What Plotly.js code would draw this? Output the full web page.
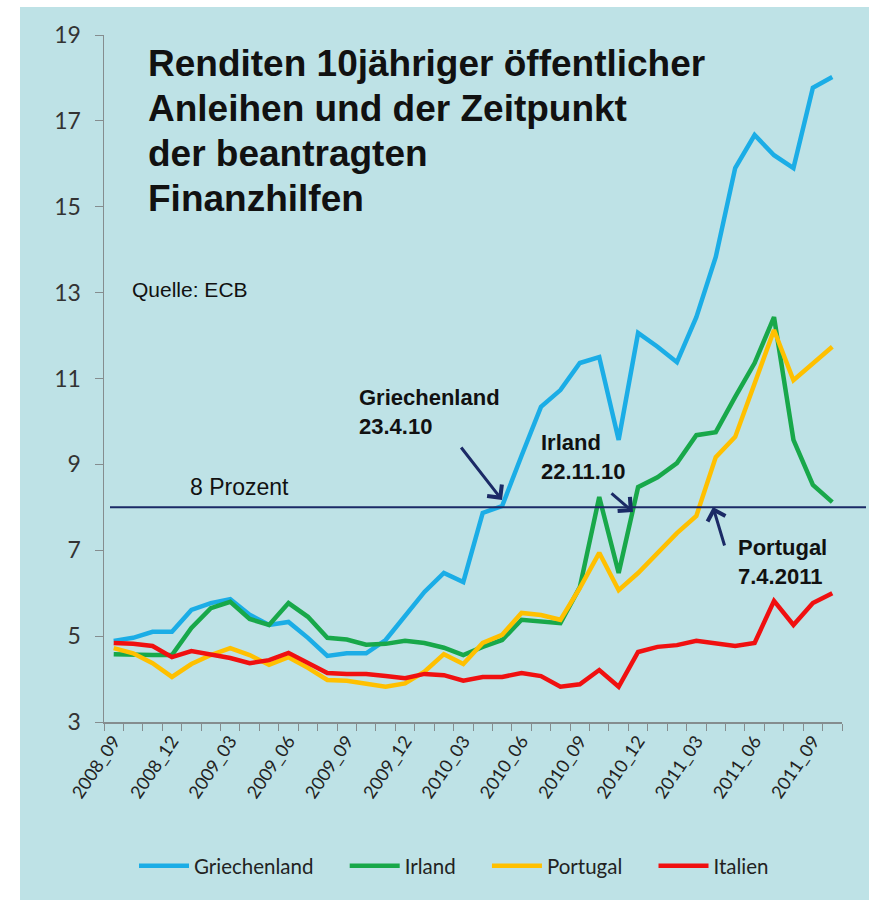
<!DOCTYPE html>
<html>
<head>
<meta charset="utf-8">
<script src="https://cdn.plot.ly/plotly-3.0.1.min.js"></script>
<style>html,body{margin:0;padding:0;background:#fff;}#chart{width:869px;height:900px;}</style>
</head>
<body>
<div id="chart"></div>
<script>
const months = ["2008_09","2008_10","2008_11","2008_12","2009_01","2009_02","2009_03","2009_04","2009_05","2009_06","2009_07","2009_08","2009_09","2009_10","2009_11","2009_12","2010_01","2010_02","2010_03","2010_04","2010_05","2010_06","2010_07","2010_08","2010_09","2010_10","2010_11","2010_12","2011_01","2011_02","2011_03","2011_04","2011_05","2011_06","2011_07","2011_08","2011_09","2011_10"];
const griechenland = [4.89,4.96,5.10,5.10,5.61,5.77,5.86,5.50,5.26,5.33,4.96,4.54,4.60,4.60,4.91,5.49,6.03,6.47,6.26,7.87,8.03,9.20,10.34,10.73,11.36,11.50,9.57,12.06,11.74,11.38,12.43,13.83,15.90,16.67,16.20,15.90,17.77,18.02];
const irland = [4.58,4.56,4.56,4.56,5.19,5.65,5.80,5.40,5.26,5.77,5.45,4.96,4.92,4.80,4.82,4.89,4.84,4.73,4.56,4.75,4.91,5.38,5.33,5.30,6.14,8.24,6.47,8.47,8.70,9.03,9.68,9.75,10.57,11.36,12.43,9.57,8.52,8.12];
const portugal = [4.72,4.60,4.37,4.05,4.35,4.56,4.72,4.56,4.33,4.51,4.26,3.98,3.96,3.88,3.82,3.90,4.17,4.58,4.35,4.84,5.03,5.54,5.49,5.38,6.12,6.94,6.07,6.47,6.95,7.40,7.80,9.17,9.64,10.92,12.13,10.96,11.36,11.74];
const italien = [4.84,4.82,4.77,4.51,4.65,4.58,4.49,4.37,4.44,4.61,4.37,4.14,4.12,4.12,4.07,4.02,4.12,4.09,3.96,4.05,4.05,4.14,4.07,3.82,3.88,4.21,3.82,4.63,4.75,4.79,4.89,4.84,4.77,4.84,5.82,5.26,5.77,6.00];
const seriesNames = ["Griechenland","Irland","Portugal","Italien"];
const threshold = 8;
const titleLines = ["Renditen 10jähriger öffentlicher","Anleihen und der Zeitpunkt","der beantragten","Finanzhilfen"];
const tickLabels = months.map((m,i) => i % 3 === 0 ? m : "");

const colors = ["#1badE6","#18a84a","#ffc000","#f01010"];
const pad = "\u00a0\u00a0\u00a0\u00a0\u00a0";
const data = [griechenland, irland, portugal, italien].map((vals,k) => ({
  x: months, y: vals, type: "scatter", mode: "lines", name: seriesNames[k] + (k < 3 ? pad : ""),
  line: {color: colors[k], width: 4.5}, hoverinfo: "skip"
}));

const L = 104, T = 35, W = 738, H = 687;
const px = v => (v - L) / W;
const py = v => (T + H - v) / H;
const bg = "#bee2e6";
const navy = "#1b2a66";
const boldFont = {family: "Liberation Sans, Arial, sans-serif", size: 22, color: "#111"};

const titleAnn = titleLines.map((t,i) => ({
  xref: "paper", yref: "paper", x: px(146), y: py(63.5 + 45 * i), xanchor: "left", yanchor: "middle",
  showarrow: false, text: "<b>" + t + "</b>",
  font: {family: "Liberation Sans, Arial, sans-serif", size: 37, color: "#111"}
}));

const layout = {
  width: 869, height: 900,
  margin: {l: L, r: 869 - L - W, t: T, b: 900 - T - H},
  paper_bgcolor: bg, plot_bgcolor: bg,
  showlegend: true,
  legend: {orientation: "h", x: px(454), xanchor: "center", y: py(866), yanchor: "middle", itemwidth: 50,
    font: {family: "Lato, sans-serif", size: 20.5, color: "#222"}, bgcolor: "rgba(0,0,0,0)"},
  xaxis: {type: "category", range: [-0.5, months.length - 0.5], tickvals: months, ticktext: tickLabels,
    tickangle: -56, ticks: "outside", tickson: "boundaries", ticklen: 7, tickcolor: "#858d8f",
    showline: true, linecolor: "#858d8f", linewidth: 1.5, showgrid: false, zeroline: false,
    tickfont: {family: "Lato, sans-serif", size: 18, color: "#222"}},
  yaxis: {range: [3, 19], tick0: 3, dtick: 2, ticks: "outside", ticklen: 8, tickcolor: "#858d8f",
    showline: true, linecolor: "#858d8f", linewidth: 1.5, showgrid: false, zeroline: false,
    tickfont: {family: "Lato, sans-serif", size: 23, color: "#333"}, ticklabelstandoff: 9},
  shapes: [
    {type: "rect", xref: "paper", yref: "paper", x0: -0.3, x1: px(20), y0: -0.5, y1: 1.2, fillcolor: "#fff", line: {width: 0}, layer: "below"},
    {type: "rect", xref: "paper", yref: "paper", x0: -0.3, x1: 1.3, y0: py(7), y1: 1.2, fillcolor: "#fff", line: {width: 0}, layer: "below"},
    {type: "line", xref: "paper", yref: "y", x0: px(110), x1: px(866), y0: threshold, y1: threshold, line: {color: navy, width: 2}}
  ],
  annotations: titleAnn.concat([
    {xref: "paper", yref: "paper", x: px(130), y: py(289), xanchor: "left", yanchor: "middle", showarrow: false,
     text: "Quelle: ECB", font: {family: "Liberation Sans, Arial, sans-serif", size: 21, color: "#111"}},
    {xref: "paper", yref: "paper", x: px(188), y: py(487), xanchor: "left", yanchor: "middle", showarrow: false,
     text: "8 Prozent", font: {family: "Liberation Sans, Arial, sans-serif", size: 23, color: "#111"}},
    {xref: "paper", yref: "paper", x: px(357), y: py(412), xanchor: "left", yanchor: "middle", align: "left", showarrow: false,
     text: "<b>Griechenland<br>23.4.10</b>", font: boldFont},
    {xref: "paper", yref: "paper", x: px(539), y: py(457), xanchor: "left", yanchor: "middle", align: "left", showarrow: false,
     text: "<b>Irland<br>22.11.10</b>", font: boldFont},
    {xref: "paper", yref: "paper", x: px(736), y: py(562), xanchor: "left", yanchor: "middle", align: "left", showarrow: false,
     text: "<b>Portugal<br>7.4.2011</b>", font: boldFont},
    {xref: "paper", yref: "paper", x: px(502), y: py(500), text: "", showarrow: true, arrowhead: 4, arrowsize: 1.2, arrowwidth: 3, arrowcolor: navy, ax: -42, ay: -54},
    {xref: "paper", yref: "paper", x: px(633), y: py(512), text: "", showarrow: true, arrowhead: 4, arrowsize: 1.2, arrowwidth: 3, arrowcolor: navy, ax: -23, ay: -20},
    {xref: "paper", yref: "paper", x: px(713), y: py(507), text: "", showarrow: true, arrowhead: 4, arrowsize: 1.2, arrowwidth: 3, arrowcolor: navy, ax: 12, ay: 40}
  ])
};

Plotly.newPlot("chart", data, layout, {displayModeBar: false, staticPlot: true});
</script>
</body>
</html>
